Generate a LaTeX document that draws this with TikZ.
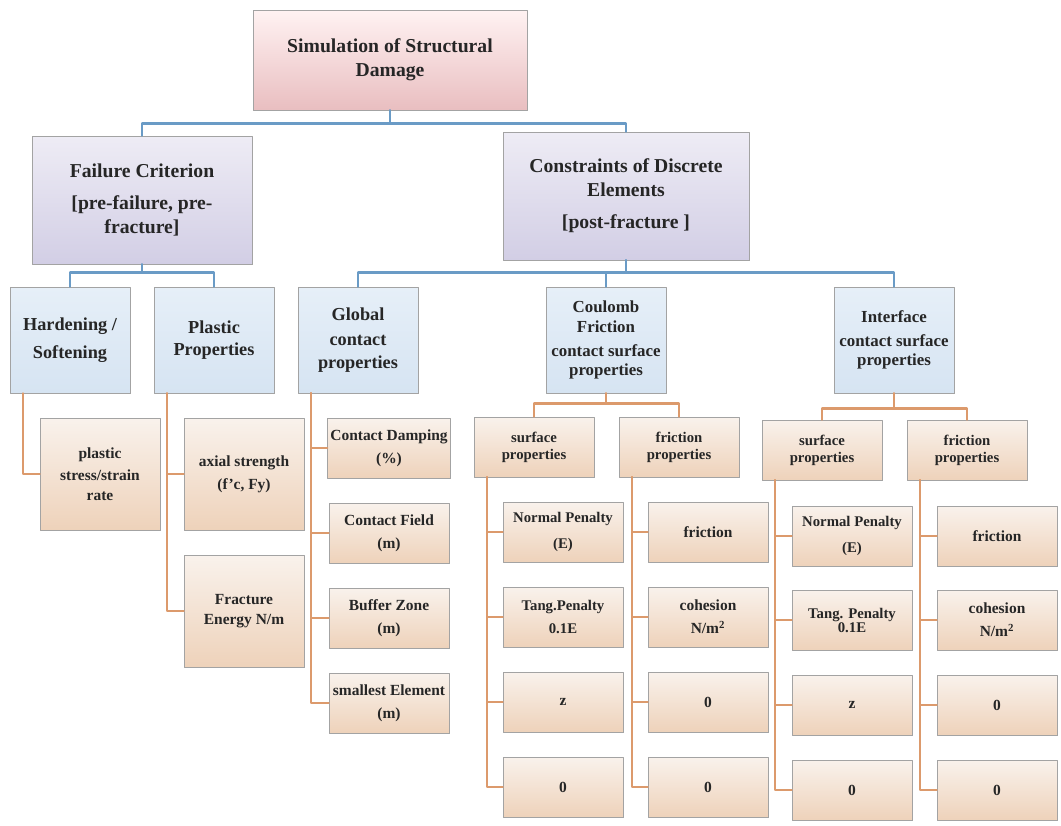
\documentclass[tikz,border=0pt]{standalone}
\usepackage{fontspec}
\setmainfont{Liberation Serif}
\usetikzlibrary{shadows}

\definecolor{trunkblue}{HTML}{6A9BC6}
\definecolor{branchorange}{HTML}{DC9A6C}
\definecolor{edgegray}{HTML}{A3A3A3}
\definecolor{inkgray}{HTML}{262626}

\tikzset{
	box/.style={draw=edgegray, line width=0.6pt, align=center, inner sep=2pt, text=inkgray,
		drop shadow={shadow xshift=0.7pt, shadow yshift=-0.9pt, fill=gray!75, opacity=0.9}},
	rootbox/.style={box, minimum width=6.85cm, minimum height=2.5cm, top color=pink!20!white, bottom color={rgb,255:red,233;green,190;blue,192},
		font=\fontsize{14}{17}\selectfont\bfseries},
	mainbox/.style={box, minimum width=5.5cm, minimum height=3.2cm, top color={rgb,255:red,238;green,236;blue,245}, bottom color={rgb,255:red,210;green,206;blue,229},
		font=\fontsize{14}{17}\selectfont\bfseries},
	groupbox/.style={box, minimum width=3.0cm, minimum height=2.65cm, top color={rgb,255:red,230;green,239;blue,248}, bottom color={rgb,255:red,214;green,228;blue,242},
		font=\fontsize{13}{16}\selectfont\bfseries},
	leafbox/.style={box, minimum width=3.0cm, minimum height=1.5cm, top color={rgb,255:red,249;green,242;blue,236}, bottom color={rgb,255:red,238;green,210;blue,186},
		font=\fontsize{11}{16.5}\selectfont\bfseries},
	bigleaf/.style={leafbox, minimum height=2.8cm},
	trunk/.style={draw=trunkblue, line width=1.8pt},
	branch/.style={draw=branchorange, line width=1.8pt},
}

\begin{document}
\begin{tikzpicture}[line join=round, line cap=round]

	\useasboundingbox (0,0) rectangle (26.525,-20.625);

	% top levels
	\node[rootbox] (root) at (9.75,-1.5) {Simulation of Structural\\Damage};

	\node[mainbox] (fail) at (3.55,-5.0) {Failure Criterion\\[6pt][pre-failure, pre-\\fracture]};

	\node[mainbox, minimum width=6.15cm] (cons) at (15.65,-4.9) {Constraints of Discrete\\Elements\\[6pt][post-fracture ]};

	\node[groupbox] (hard) at (1.75,-8.5) {Hardening /\\[4pt]Softening};

	\node[groupbox] (plas) at (5.35,-8.5) {Plastic\\Properties};

	\node[groupbox] (glob) at (8.95,-8.5) {Global\\[2pt]contact\\properties};

	\node[groupbox, font=\fontsize{12}{14}\selectfont\bfseries] (coul) at (15.15,-8.5) {Coulomb\\Friction\\[3pt]contact surface\\properties};

	\node[groupbox, font=\fontsize{12}{14}\selectfont\bfseries] (intf) at (22.35,-8.5) {Interface\\[3pt]contact surface\\properties};

	\draw[trunk] (root.south) -- ++(0,-0.33) -| (fail.north);
	\draw[trunk] (root.south) -- ++(0,-0.33) -| (cons.north);

	\draw[trunk] (fail.south) -- ++(0,-0.2) -| (hard.north);
	\draw[trunk] (fail.south) -- ++(0,-0.2) -| (plas.north);

	\foreach \g in {glob,coul,intf}
		\draw[trunk] (cons.south) -- ++(0,-0.3) -| (\g.north);

	% material leaves
	\node[bigleaf, font=\fontsize{11}{14}\selectfont\bfseries] (pss) at (2.5,-11.85) {plastic\\[2pt]stress/strain\\rate};

	\node[bigleaf] (axs) at (6.1,-11.85) {axial strength\\(f'c, Fy)};

	\node[bigleaf, font=\fontsize{11}{14}\selectfont\bfseries] (fen) at (6.1,-15.275) {Fracture\\Energy N/m};

	\draw[branch] ([xshift=0.33cm]hard.south west) |- (pss.west);

	\foreach \l in {axs,fen}
		\draw[branch] ([xshift=0.33cm]plas.south west) |- (\l.west);

	% global contact
	\node[leafbox] (cdm) at (9.725,-11.2) {Contact Damping\\(\%)};

	\node[leafbox] (cfd) at (9.725,-13.325) {Contact Field\\(m)};

	\node[leafbox] (bzn) at (9.725,-15.45) {Buffer Zone\\(m)};

	\node[leafbox] (sel) at (9.725,-17.575) {smallest Element\\(m)};

	\foreach \l in {cdm,cfd,bzn,sel}
		\draw[branch] ([xshift=0.33cm]glob.south west) |- (\l.west);

	% coulomb friction
	\node[leafbox, font=\fontsize{10.5}{12}\selectfont\bfseries] (csp) at (13.35,-11.175) {surface\\properties};

	\node[leafbox, font=\fontsize{10.5}{12}\selectfont\bfseries] (cfp) at (16.975,-11.175) {friction\\properties};

	\draw[branch] (coul.south) -- ++(0,-0.25) -| (csp.north);
	\draw[branch] (coul.south) -- ++(0,-0.25) -| (cfp.north);

	\node[leafbox, font=\fontsize{10.5}{19}\selectfont\bfseries] (cs1) at (14.075,-13.3) {Normal Penalty\\(E)};

	\node[leafbox, font=\fontsize{10.5}{16.5}\selectfont\bfseries] (cs2) at (14.075,-15.425) {Tang.Penalty\\0.1E};

	\node[leafbox] (cs3) at (14.075,-17.55) {z};

	\node[leafbox] (cs4) at (14.075,-19.675) {0};

	\node[leafbox] (cf1) at (17.7,-13.3) {friction};

	\node[leafbox] (cf2) at (17.7,-15.425) {cohesion\\N/m\textsuperscript{2}};

	\node[leafbox] (cf3) at (17.7,-17.55) {0};

	\node[leafbox] (cf4) at (17.7,-19.675) {0};

	\foreach \l in {cs1,cs2,cs3,cs4}
		\draw[branch] ([xshift=0.33cm]csp.south west) |- (\l.west);

	\foreach \l in {cf1,cf2,cf3,cf4}
		\draw[branch] ([xshift=0.33cm]cfp.south west) |- (\l.west);

	% interface
	\node[leafbox, font=\fontsize{10.5}{12}\selectfont\bfseries] (isp) at (20.55,-11.25) {surface\\properties};

	\node[leafbox, font=\fontsize{10.5}{12}\selectfont\bfseries] (ifp) at (24.175,-11.25) {friction\\properties};

	\draw[branch] (intf.south) -- ++(0,-0.375) -| (isp.north);
	\draw[branch] (intf.south) -- ++(0,-0.375) -| (ifp.north);

	\node[leafbox, font=\fontsize{10.5}{19}\selectfont\bfseries] (is1) at (21.3,-13.4) {Normal Penalty\\(E)};

	\node[leafbox, font=\fontsize{10.5}{10}\selectfont\bfseries] (is2) at (21.3,-15.5) {Tang. Penalty\\0.1E};

	\node[leafbox] (is3) at (21.3,-17.625) {z};

	\node[leafbox] (is4) at (21.3,-19.75) {0};

	\node[leafbox] (if1) at (24.925,-13.4) {friction};

	\node[leafbox] (if2) at (24.925,-15.5) {cohesion\\N/m\textsuperscript{2}};

	\node[leafbox] (if3) at (24.925,-17.625) {0};

	\node[leafbox] (if4) at (24.925,-19.75) {0};

	\foreach \l in {is1,is2,is3,is4}
		\draw[branch] ([xshift=0.33cm]isp.south west) |- (\l.west);

	\foreach \l in {if1,if2,if3,if4}
		\draw[branch] ([xshift=0.33cm]ifp.south west) |- (\l.west);

\end{tikzpicture}
\end{document}
